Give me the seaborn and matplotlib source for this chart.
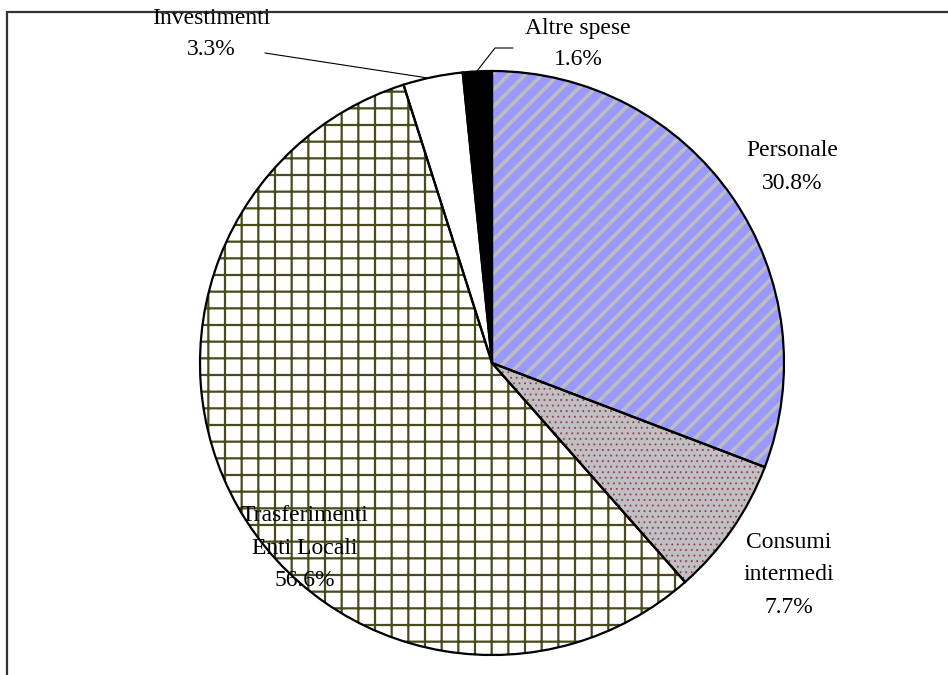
import matplotlib
matplotlib.use("Agg")
import matplotlib.pyplot as plt
import seaborn as sns

sns.set_theme(style="white")
plt.rcParams['font.family'] = ['Liberation Serif', 'DejaVu Serif']
plt.rcParams['hatch.linewidth'] = 1.6

# Data
categories = ["Personale", "Consumi\nintermedi", "Trasferimenti\nEnti Locali", "Investimenti", "Altre spese"]
shares = [30.8, 7.7, 56.6, 3.3, 1.6]
face_colors = ["#9999FF", "#C0C0C0", "#FFFFFF", "#FFFFFF", "#000000"]
hatch_colors = ["#BDBDBD", "#993366", "#4a4a1c", "#FFFFFF", "#000000"]
hatches = ["//", "...", "+", "", ""]
hatch_widths = [2.6, 0.6, 1.6, 1.0, 1.0]

W, H = 948, 675
fig = plt.figure(figsize=(W / 100, H / 100), dpi=100)
ax = fig.add_axes([0, 0, 1, 1])

cx, cy, r = 492, H - 363, 292


def with_hatch_lw(artist, lw):
    if hasattr(artist, "set_hatch_linewidth"):
        artist.set_hatch_linewidth(lw)
    artist._hatch_linewidth = lw
    orig = artist.draw

    def draw(renderer, _orig=orig, _lw=lw):
        with plt.rc_context({'hatch.linewidth': _lw}):
            _orig(renderer)
    artist.draw = draw


# pass 1: fills with hatches
wedges, _ = ax.pie(shares, startangle=90, counterclock=False, center=(cx, cy), radius=r,
                   colors=face_colors, wedgeprops=dict(linewidth=0), frame=True)
for w, hc, h, hw in zip(wedges, hatch_colors, hatches, hatch_widths):
    w.set_edgecolor(hc)
    w.set_linewidth(0)
    if h:
        w.set_hatch(h)
        with_hatch_lw(w, hw)
# pass 2: outlines
ax.pie(shares, startangle=90, counterclock=False, center=(cx, cy), radius=r,
       colors=["none"] * len(shares),
       wedgeprops=dict(linewidth=1.6, edgecolor="black", facecolor="none"), frame=True)
ax.set_xlim(0, W)
ax.set_ylim(0, H)
ax.set_aspect("equal")
ax.axis("off")

# labels
fs = 17
label_pos = [(792, 167), (789, 575), (305, 548), (211, 34), (578, 44)]
spacings = [1.72, 1.72, 1.72, 1.6, 1.65]
for (lx, ly), cat, val, ls in zip(label_pos, categories, shares, spacings):
    ax.text(lx, H - ly, f"{cat}\n{val:.1f}%", ha="center", va="center",
            fontsize=fs, linespacing=ls, color="black")

# leader lines
ax.plot([477, 495, 513], [H - 71, H - 48, H - 48], color="black", lw=0.8)
ax.plot([428, 265], [H - 78, H - 53], color="black", lw=0.8)

# frame (open on the right and bottom)
ax.plot([7, W + 5], [H - 12, H - 12], color="#333333", lw=1.6, clip_on=False)
ax.plot([7, 7], [H - 12, -5], color="#333333", lw=1.6, clip_on=False)

fig.savefig("out.png", dpi=100)
